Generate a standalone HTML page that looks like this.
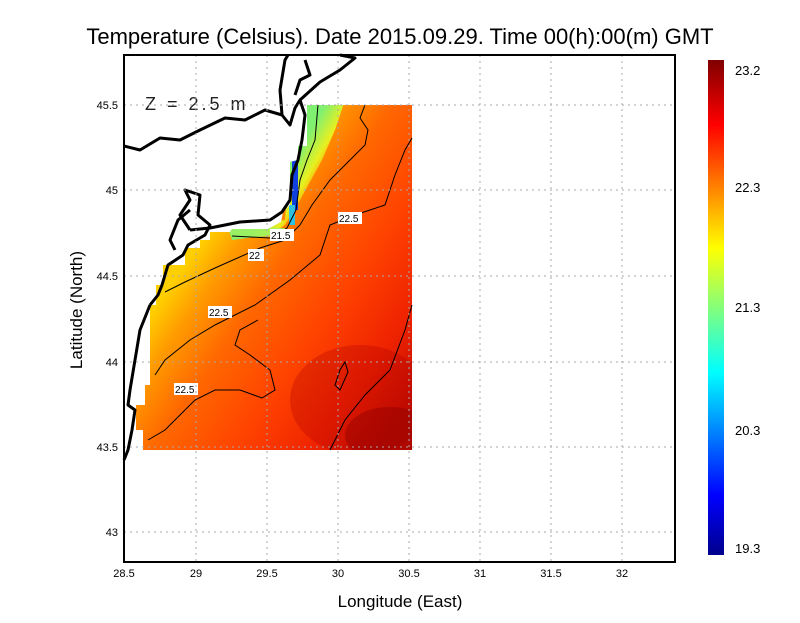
<!DOCTYPE html>
<html><head><style>
body{margin:0;background:#fff;width:800px;height:618px;overflow:hidden}
text{font-family:"Liberation Sans",sans-serif}
</style></head><body>
<svg width="800" height="618" viewBox="0 0 800 618" xmlns="http://www.w3.org/2000/svg">
<defs>
<linearGradient id="fld" gradientUnits="userSpaceOnUse" x1="205" y1="235" x2="420" y2="385">
<stop offset="0" stop-color="#ffd000"/>
<stop offset="0.12" stop-color="#ff9c00"/>
<stop offset="0.3" stop-color="#ff6800"/>
<stop offset="0.55" stop-color="#ff4400"/>
<stop offset="0.8" stop-color="#f02400"/>
<stop offset="1" stop-color="#c81000"/>
</linearGradient>
<linearGradient id="grn" gradientUnits="userSpaceOnUse" x1="305" y1="140" x2="340" y2="160">
<stop offset="0" stop-color="#80f070"/>
<stop offset="0.5" stop-color="#e8f020"/>
<stop offset="1" stop-color="#ffc000" stop-opacity="0"/>
</linearGradient>
<linearGradient id="cb" x1="0" y1="1" x2="0" y2="0">
<stop offset="0" stop-color="#00008c"/>
<stop offset="0.12" stop-color="#0000ff"/>
<stop offset="0.37" stop-color="#00ffff"/>
<stop offset="0.62" stop-color="#ffff00"/>
<stop offset="0.87" stop-color="#ff0000"/>
<stop offset="1" stop-color="#800000"/>
</linearGradient>
<clipPath id="dc"><path d="M307,105 L412,105 L412,450 L143,450 L143,430 L136,430 L136,405 L145,405 L145,385 L150,385 L150,305 L156,305 L156,285 L163,285 L163,265 L185,265 L185,248 L200,248 L200,240 L210,240 L210,232 L230,232 L232,229 L268,229 L281,222 L283,212 L290,205 L290,162 L298,160 L298,146 L307,146 Z"/></clipPath>
</defs>
<text x="400" y="44" font-size="22" text-anchor="middle">Temperature (Celsius). Date 2015.09.29. Time 00(h):00(m)  GMT</text>
<g clip-path="url(#dc)">
<rect x="130" y="100" width="290" height="360" fill="url(#fld)"/>
<path d="M285,100 L345,100 L335,130 L322,160 L300,200 L285,225 L270,235 L232,240 L228,228 L285,220 L290,160 Z" fill="url(#grn)"/>
<path d="M228,228 L285,228 L282,236 L232,238 Z" fill="#a0f060" opacity="0.8"/>
<rect x="292" y="160" width="6" height="50" fill="#1040e0"/>
<rect x="289" y="205" width="6" height="20" fill="#30c0e0"/>
<ellipse cx="360" cy="400" rx="70" ry="55" fill="#b00000" opacity="0.3"/>
<ellipse cx="390" cy="435" rx="45" ry="28" fill="#900000" opacity="0.45"/>
</g>
<g fill="none" stroke="#000" stroke-width="1">
<path d="M232,236 L270,238 L287,228 L296,210 L300,180 L307,160 L315,140 L318,105"/>
<path d="M165,292 L185,282 L215,268 L260,248 L285,240 L300,225 L312,205 L330,180 L350,160 L365,145 L368,130 L360,118 L365,105"/>
<path d="M155,375 L165,360 L190,340 L215,325 L255,305 L290,280 L320,255 L330,225 L355,215 L385,205 L395,175 L405,150 L412,138"/>
<path d="M148,440 L165,430 L180,415 L195,400 L215,390 L240,390 L262,398 L275,390 L270,370 L250,355 L235,345 L240,330 L258,320"/>
<path d="M330,450 L345,420 L365,395 L390,370 L405,330 L412,305"/>
<path d="M335,385 L340,370 L345,362 L348,372 L340,390 Z"/>
</g>
<g font-size="10">
<rect x="270" y="229" width="24" height="12" fill="#fff"/><text x="271" y="239">21.5</text>
<rect x="248" y="249" width="16" height="12" fill="#fff"/><text x="249" y="259">22</text>
<rect x="338" y="212" width="24" height="12" fill="#fff"/><text x="339" y="222">22.5</text>
<rect x="208" y="306" width="24" height="12" fill="#fff"/><text x="209" y="316">22.5</text>
<rect x="174" y="383" width="24" height="12" fill="#fff"/><text x="175" y="393">22.5</text>
</g>
<g fill="none" stroke="#000" stroke-width="3" stroke-linejoin="round">
<path d="M124,146 L140,150 L160,138 L180,140 L200,130 L225,118 L245,120 L265,110 L282,115 L290,125 L295,108 L300,100 L305,115 L302,140 L298,160 L292,175 L290,200 L282,212 L270,220 L240,222 L210,228 L190,230"/>
<path d="M300,100 L320,82 L340,70 L355,58 L340,55"/>
<path d="M282,115 L280,90 L285,60 L288,55"/>
<path d="M295,95 L300,80 L310,75 L305,60"/>
<path d="M190,230 L180,215 L190,200 L185,190 L200,195 L198,215 L210,225 L205,235 L188,245 L183,255 L168,265 L162,285 L158,295 L150,305"/>
<path d="M190,210 L178,220 L170,240 L175,250"/>
<path d="M150,305 L140,330 L135,360 L130,390 L128,405 L135,410 L132,430 L128,450 L124,460"/>
</g>
<text x="145" y="110" font-size="18" letter-spacing="3" fill="#222">Z = 2.5 m</text>
<g stroke="#aaa" stroke-width="1" stroke-dasharray="2,4">
<path d="M196,55V562M267,55V562M338,55V562M409,55V562M480,55V562M551,55V562M622,55V562"/>
<path d="M124,105H675M124,190H675M124,276H675M124,362H675M124,447H675M124,532H675"/>
</g>
<rect x="124" y="55" width="551" height="507" fill="none" stroke="#000" stroke-width="2"/>
<g font-size="11" text-anchor="middle">
<text x="124" y="577">28.5</text><text x="196" y="577">29</text><text x="267" y="577">29.5</text><text x="338" y="577">30</text><text x="409" y="577">30.5</text><text x="480" y="577">31</text><text x="551" y="577">31.5</text><text x="622" y="577">32</text>
</g>
<g font-size="11" text-anchor="end">
<text x="118" y="109">45.5</text><text x="118" y="194">45</text><text x="118" y="280">44.5</text><text x="118" y="366">44</text><text x="118" y="451">43.5</text><text x="118" y="536">43</text>
</g>
<text x="400" y="607" font-size="17" text-anchor="middle">Longitude (East)</text>
<text transform="translate(82,310) rotate(-90)" font-size="17" text-anchor="middle">Latitude (North)</text>
<rect x="708" y="60" width="16" height="495" fill="url(#cb)"/>
<g font-size="13">
<text x="735" y="75">23.2</text><text x="735" y="192">22.3</text><text x="735" y="312">21.3</text><text x="735" y="435">20.3</text><text x="735" y="553">19.3</text>
</g>
</svg>
</body></html>
